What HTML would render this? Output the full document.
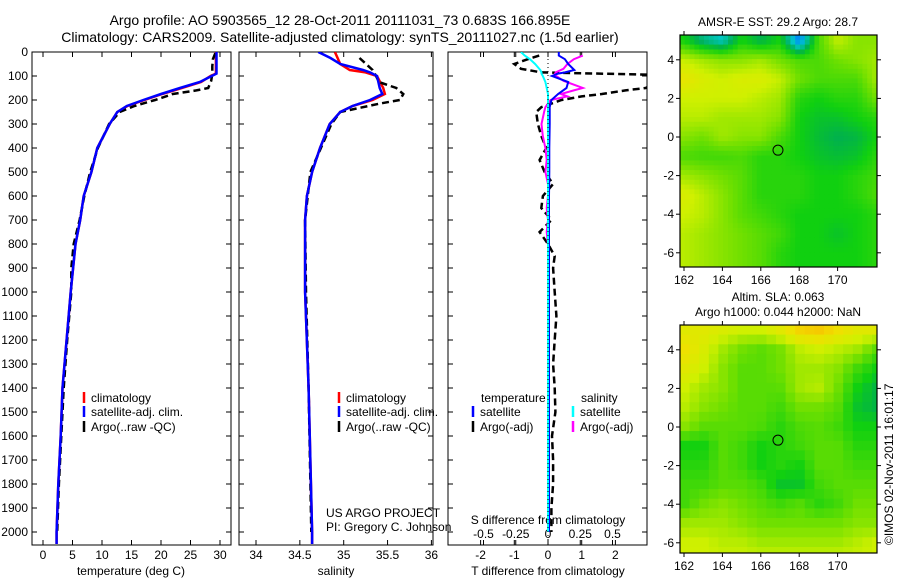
<!DOCTYPE html>
<html><head><meta charset="utf-8"><style>
body{margin:0;background:#fff;}
svg{display:block;font-family:"Liberation Sans",sans-serif;}
</style></head><body>
<svg id="fig" width="900" height="580" xmlns="http://www.w3.org/2000/svg">
<text x="340" y="25" font-size="14" text-anchor="middle">Argo profile: AO 5903565_12 28-Oct-2011 20111031_73 0.683S 166.895E</text>
<text x="340" y="42" font-size="14" text-anchor="middle">Climatology: CARS2009. Satellite-adjusted climatology: synTS_20111027.nc (1.5d earlier)</text>
<text x="778" y="26" font-size="12" text-anchor="middle">AMSR-E SST: 29.2 Argo: 28.7</text>
<text x="778" y="301" font-size="12" text-anchor="middle">Altim. SLA: 0.063</text>
<text x="778" y="316" font-size="12" text-anchor="middle">Argo h1000: 0.044 h2000: NaN</text>
<text transform="translate(893,545) rotate(-90)" font-size="12">©IMOS 02-Nov-2011 16:01:17</text>
<text x="326" y="517" font-size="12">US ARGO PROJECT</text>
<text x="326" y="531" font-size="12">PI: Gregory C. Johnson</text>
</svg>
<script>
// ---- profile data ----
const depthT = [0,90,100,125,150,175,200,225,250,300,400,500,600,700,800,1000,1200,1400,1600,1800,2000,2050];
const tempClim = [29.3,29.3,28.4,26.8,23.5,20.2,17.2,14.3,12.6,11.3,9.2,8.2,6.9,6.3,5.5,4.7,4.0,3.3,3.0,2.6,2.3,2.3];
const tempSat  = [29.4,29.4,28.6,26.6,23.2,20.0,17.0,14.2,12.6,11.3,9.2,8.2,6.9,6.3,5.5,4.7,4.0,3.3,3.0,2.6,2.3,2.3];
const depthA = [5,30,60,90,120,150,160,175,200,225,250,300,400,500,600,700,800,900,1000,1200,1400,1600,1800,2000];
const tempArgo = [29.2,28.8,28.7,28.7,28.5,28.0,26.0,22.0,19.0,15.5,13.0,11.2,9.3,8.0,7.0,6.2,5.2,4.8,4.8,4.1,3.5,3.1,2.7,2.4];
const depthS = [0,25,50,75,85,100,150,175,200,225,250,300,400,500,600,700,1000,1400,2000,2050];
const salClim = [34.90,34.93,34.96,35.07,35.25,35.38,35.45,35.47,35.33,35.10,34.96,34.84,34.73,34.64,34.58,34.56,34.56,34.60,34.64,34.64];
const salSat  = [34.71,34.85,34.96,35.22,35.30,35.38,35.41,35.44,35.30,35.10,34.96,34.84,34.73,34.64,34.58,34.56,34.56,34.60,34.64,34.64];
const depthSA = [25,75,100,125,150,175,200,215,250,300,400,500,700,1000,1400,2000];
const salArgo = [35.18,35.33,35.37,35.40,35.60,35.68,35.64,35.41,34.96,34.86,34.74,34.62,34.56,34.57,34.60,34.63];
const depthD = [0,15,30,50,75,85,90,100,125,150,175,200,230,250,300,400,500,600,700,800,1000,1400,2000];
const dTsat = [0.32,0.32,0.5,0.6,0.78,0.5,0.3,0.12,0.6,0.55,0.3,0.1,0.05,0.05,0.05,0.04,0.04,0.03,0.03,0.03,0.03,0.03,0.03];
const dSsat = [-0.21,-0.18,-0.14,-0.1,-0.06,-0.05,-0.05,-0.04,-0.02,-0.01,0,0,0,0,0,0,0,0,0,0,0,0,0];
const depthDA = [15,30,50,70,85,95,120,150,160,175,185,200,215,230,250,300,350,400,450,500,550,600,650,700,750,800,850,900,1000,1100,1200,1300,1400,1500,1600,1700,1800,1900,2000];
const dTargo = [-0.26,-0.6,-1.0,-0.8,-0.2,3.2,3.3,2.9,2.3,1.6,1.0,0.4,0.1,-0.2,-0.35,-0.3,-0.2,-0.05,-0.25,-0.1,0.15,-0.15,-0.2,0.1,-0.25,0.0,0.2,0.15,0.2,0.25,0.2,0.15,0.2,0.22,0.12,0.15,0.15,0.1,0.1];
const dSargo = [0.27,0.2,0.15,0.12,0.06,0.05,0.12,0.27,0.2,0.1,0.15,0.02,0.0,-0.02,-0.03,-0.05,-0.04,-0.02,-0.01,-0.02,0.0,0.0,-0.01,0.0,-0.01,0.0,0.0,0.0,0.0,0.0,0.0,0.0,0.0,0.0,0.0,0.0,0.0,0.0,0.0];
const depthTicks = [0,100,200,300,400,500,600,700,800,900,1000,1100,1200,1300,1400,1500,1600,1700,1800,1900,2000];
const tempTicks = [0,5,10,15,20,25,30];
const salTicks = [34,34.5,35,35.5,36];
const dTTicks = [-2,-1,0,1,2];
const dSTicks = [-0.5,-0.25,0,0.25,0.5];
// ---- map data (coarse grids, rows lat 5..-7, cols lon 162..172) ----
const mapLons = [162,163,164,165,166,167,168,169,170,171,172];
const mapLats = [5,4,3,2,1,0,-1,-2,-3,-4,-5,-6,-7];
const sstGrid = [
[0.50,0.42,0.38,0.50,0.45,0.50,0.30,0.55,0.65,0.60,0.60],
[0.65,0.62,0.60,0.60,0.62,0.58,0.55,0.55,0.58,0.60,0.62],
[0.72,0.68,0.66,0.68,0.68,0.65,0.58,0.55,0.55,0.55,0.62],
[0.66,0.66,0.66,0.66,0.64,0.62,0.52,0.50,0.52,0.52,0.58],
[0.64,0.64,0.62,0.62,0.62,0.60,0.50,0.48,0.48,0.50,0.52],
[0.60,0.58,0.62,0.60,0.60,0.55,0.50,0.47,0.45,0.46,0.50],
[0.55,0.54,0.54,0.55,0.52,0.52,0.50,0.48,0.47,0.48,0.52],
[0.62,0.60,0.58,0.56,0.52,0.52,0.52,0.50,0.50,0.52,0.54],
[0.68,0.64,0.60,0.56,0.52,0.52,0.52,0.50,0.50,0.52,0.55],
[0.66,0.64,0.60,0.56,0.54,0.52,0.50,0.50,0.50,0.50,0.52],
[0.64,0.62,0.60,0.58,0.56,0.54,0.50,0.50,0.48,0.50,0.52],
[0.64,0.62,0.60,0.58,0.56,0.52,0.50,0.50,0.50,0.50,0.52],
[0.64,0.62,0.60,0.58,0.56,0.52,0.50,0.50,0.50,0.50,0.52]];
const slaGrid = [
[0.70,0.70,0.68,0.66,0.66,0.70,0.76,0.78,0.74,0.70,0.70],
[0.74,0.68,0.62,0.58,0.56,0.58,0.64,0.66,0.64,0.62,0.56],
[0.70,0.66,0.60,0.56,0.56,0.58,0.62,0.62,0.60,0.54,0.50],
[0.66,0.62,0.60,0.56,0.56,0.56,0.62,0.64,0.58,0.50,0.46],
[0.64,0.60,0.58,0.56,0.56,0.54,0.58,0.58,0.56,0.48,0.46],
[0.60,0.56,0.56,0.56,0.55,0.52,0.55,0.56,0.54,0.50,0.50],
[0.50,0.50,0.56,0.54,0.50,0.52,0.54,0.56,0.56,0.52,0.52],
[0.52,0.52,0.56,0.54,0.50,0.52,0.50,0.56,0.56,0.54,0.54],
[0.54,0.54,0.56,0.56,0.54,0.48,0.48,0.54,0.56,0.56,0.56],
[0.54,0.58,0.60,0.58,0.56,0.54,0.56,0.52,0.54,0.58,0.58],
[0.62,0.62,0.62,0.60,0.58,0.58,0.58,0.58,0.58,0.60,0.60],
[0.66,0.66,0.64,0.64,0.62,0.62,0.62,0.62,0.62,0.64,0.66],
[0.66,0.66,0.66,0.66,0.66,0.66,0.66,0.66,0.66,0.66,0.66]];
const lonTicks = [162,164,166,168,170];
const latTicks = [4,2,0,-2,-4,-6];
const argoLon = [166.895];
const argoLat = [-0.683];

const NS = "http://www.w3.org/2000/svg";
const svg = document.getElementById('fig');
function mk(tag, attrs, parent){const e=document.createElementNS(NS,tag);for(const k in attrs)e.setAttribute(k,attrs[k]);(parent||svg).appendChild(e);return e;}

const PT=52, PB=545;
const yD = d => 52 + d*0.24;
const panels = [
 {x0:32,x1:231, f:v=>43+v*5.9, name:'temperature'},
 {x0:239,x1:433, f:v=>256+(v-34)*87.7, name:'salinity'},
 {x0:448,x1:647, f:v=>548+v*33.7, name:'difference'}];
const fS = v => 548 + v*129;

let defs = mk('defs',{});
panels.forEach((p,i)=>{
  const cp = mk('clipPath',{id:'clip'+i},defs);
  mk('rect',{x:p.x0,y:PT,width:p.x1-p.x0,height:PB-PT},cp);
});

function line(xs, ds, fx, color, name, pi, dash, w){
  const pts = xs.map((v,i)=>fx(v).toFixed(1)+','+yD(ds[i]).toFixed(1)).join(' ');
  const e = mk('polyline',{points:pts,fill:'none',stroke:color,'stroke-width':w||2.5,'clip-path':'url(#clip'+pi+')'});
  if(dash) e.setAttribute('stroke-dasharray',dash);
  
  
}

panels.forEach((p,i)=>{
  const r = mk('rect',{x:p.x0,y:PT,width:p.x1-p.x0,height:PB-PT,fill:'none',stroke:'#000','stroke-width':1});
  
  
  depthTicks.forEach(d=>{
    mk('line',{x1:p.x0,x2:p.x0+5,y1:yD(d),y2:yD(d),stroke:'#000'});
    mk('line',{x1:p.x1,x2:p.x1-5,y1:yD(d),y2:yD(d),stroke:'#000'});
    if(i===0){
      const t = mk('text',{x:p.x0-4,y:yD(d)+4,'font-size':12,'text-anchor':'end'});
      t.textContent = d;
      
      
    }
  });
});
function xticks(ticks, fx, p, y){
  ticks.forEach(v=>{
    const x = fx(v);
    mk('line',{x1:x,x2:x,y1:PB,y2:PB-5,stroke:'#000'});
    mk('line',{x1:x,x2:x,y1:PT,y2:PT+5,stroke:'#000'});
    const t = mk('text',{x:x,y:y,'font-size':12,'text-anchor':'middle'});
    t.textContent = v;
    
    
  });
}
xticks(tempTicks, panels[0].f, panels[0], 559);
xticks(salTicks, panels[1].f, panels[1], 559);
xticks(dTTicks, panels[2].f, panels[2], 559);
xticks(dSTicks, fS, panels[2], 538);
[[131,'temperature (deg C)','temperature-axis-title'],[336,'salinity','salinity-axis-title'],[548,'T difference from climatology','t-diff-axis-title']].forEach(a=>{
  const t = mk('text',{x:a[0],y:575,'font-size':12,'text-anchor':'middle'});
  t.textContent=a[1];
  
  
});
{const t = mk('text',{x:548,y:524,'font-size':12,'text-anchor':'middle'});
 t.textContent='S difference from climatology';
 
 }

line(tempClim, depthT, panels[0].f, '#f00', 'temp-climatology-line', 0);
line(tempArgo, depthA, panels[0].f, '#000', 'temp-argo-line', 0, '7 4');
line(tempSat, depthT, panels[0].f, '#00f', 'temp-satellite-line', 0);
line(salClim, depthS, panels[1].f, '#f00', 'sal-climatology-line', 1);
line(salArgo, depthSA, panels[1].f, '#000', 'sal-argo-line', 1, '7 4');
line(salSat, depthS, panels[1].f, '#00f', 'sal-satellite-line', 1);
line(dTargo, depthDA, panels[2].f, '#000', 'dt-argo-line', 2, '7 4');
line(dSargo, depthDA, fS, '#f0f', 'ds-argo-line', 2, null, 2);
line(dTsat, depthD, panels[2].f, '#00f', 'dt-satellite-line', 2, null, 2);
line(dSsat, depthD, fS, '#0ff', 'ds-satellite-line', 2, null, 2);
{const z = mk('line',{x1:548,x2:548,y1:PT+3,y2:PB,stroke:'#000','stroke-dasharray':'1 3'});
  }

function legend(x, y, color, label, name){
  mk('line',{x1:x,x2:x,y1:y-10,y2:y+1,stroke:color,'stroke-width':2.5});
  const t = mk('text',{x:x+7,y:y,'font-size':12});
  t.textContent = label;
  
  
}
[[84,'temp'],[339,'sal']].forEach(o=>{
  legend(o[0],402,'#f00','climatology',o[1]+'-legend-climatology');
  legend(o[0],416,'#00f','satellite-adj. clim.',o[1]+'-legend-satellite');
  legend(o[0],431,'#000','Argo(..raw -QC)',o[1]+'-legend-argo');
});
{const t=mk('text',{x:481,y:402,'font-size':12});t.textContent='temperature';}
{const t=mk('text',{x:581,y:402,'font-size':12});t.textContent='salinity';}
legend(473,416,'#00f','satellite','legend-dt-satellite');
legend(473,431,'#000','Argo(-adj)','legend-dt-argo');
legend(573,416,'#0ff','satellite','legend-ds-satellite');
legend(573,431,'#f0f','Argo(-adj)','legend-ds-argo');

const cstops=[[0.2,[0,0,144]],[0.3,[0,128,255]],[0.38,[0,200,200]],[0.45,[0,176,80]],[0.5,[16,208,16]],[0.58,[112,224,0]],[0.66,[208,240,0]],[0.74,[240,224,0]],[0.85,[255,160,0]]];
function cmap(v){
  if(v<=cstops[0][0]) return 'rgb('+cstops[0][1]+')';
  for(let i=1;i<cstops.length;i++){
    if(v<=cstops[i][0]){const a=cstops[i-1],b=cstops[i],t=(v-a[0])/(b[0]-a[0]);
      return 'rgb('+a[1].map((c,k)=>Math.round(c+(b[1][k]-c)*t)).join(',')+')';}
  }
  return 'rgb('+cstops[cstops.length-1][1]+')';
}
function sample(grid, lon, lat){
  let fx=(lon-mapLons[0]), fy=(mapLats[0]-lat);
  fx=Math.max(0,Math.min(mapLons.length-1.001,fx)); fy=Math.max(0,Math.min(mapLats.length-1.001,fy));
  const i=Math.floor(fx), j=Math.floor(fy), tx=fx-i, ty=fy-j;
  const a=grid[j][i],b=grid[j][i+1],c=grid[j+1][i],d=grid[j+1][i+1];
  return a*(1-tx)*(1-ty)+b*tx*(1-ty)+c*(1-tx)*ty+d*tx*ty;
}
function drawMap(grid, top, lat0y, name, step, h){
  const X0=680, X1=877, Y0=top, Y1=top+h;
  const lx = lon => 684 + (lon-162)*19.2;
  const ly = lat => lat0y - lat*19.3;
  const g = mk('g',{});
  
  
  const lonMin=(X0-684)/19.2+162, latMax=(lat0y-Y0)/19.3;
  for(let lat=latMax; lat>-7; lat-=step){
    for(let lon=lonMin; lon<172.3; lon+=step){
      const x=lx(lon), y=ly(lat);
      if(x>=X1||y>=Y1) continue;
      mk('rect',{x:x.toFixed(1),y:y.toFixed(1),width:Math.min(step*19.2+0.6,X1-x).toFixed(1),height:Math.min(step*19.3+0.6,Y1-y).toFixed(1),fill:cmap(sample(grid,lon+step/2,lat-step/2))},g);
    }
  }
  const fr = mk('rect',{x:X0,y:Y0,width:X1-X0,height:Y1-Y0,fill:'none',stroke:'#000','stroke-width':1.2});
  
  
  lonTicks.forEach(v=>{
    const x=lx(v);
    mk('line',{x1:x,x2:x,y1:Y1,y2:Y1+4,stroke:'#000'});
    mk('line',{x1:x,x2:x,y1:Y0,y2:Y0-4,stroke:'#000'});
    const t=mk('text',{x:x,y:Y1+17,'font-size':12,'text-anchor':'middle'});t.textContent=v;
    
    
  });
  latTicks.forEach(v=>{
    const y=ly(v);
    mk('line',{x1:X0,x2:X0-4,y1:y,y2:y,stroke:'#000'});
    mk('line',{x1:X1,x2:X1+4,y1:y,y2:y,stroke:'#000'});
    const t=mk('text',{x:X0-6,y:y+4,'font-size':12,'text-anchor':'end'});t.textContent=v;
    
    
  });
  argoLon.forEach((lo,k)=>{
    const c=mk('circle',{cx:lx(lo),cy:ly(argoLat[k]),r:5,fill:'none',stroke:'#000','stroke-width':1});
    
    
  });
}
drawMap(sstGrid, 35, 137, 'sst-map', 0.25, 232);
drawMap(slaGrid, 325, 427, 'sla-map', 0.5, 228);
</script>
</body></html>
